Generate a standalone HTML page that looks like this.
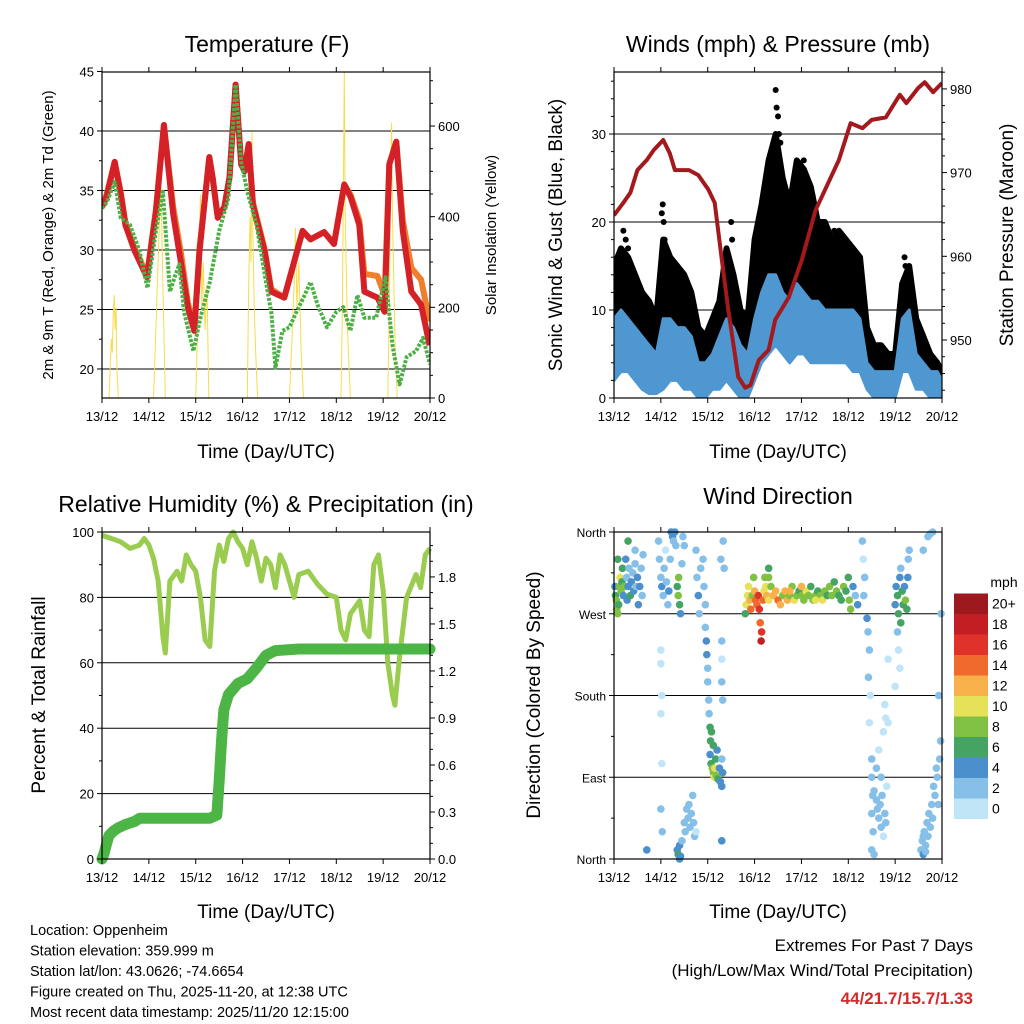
<!DOCTYPE html>
<html><head><meta charset="utf-8"><style>
html,body{margin:0;padding:0;background:#fff;}
svg{display:block;font-family:"Liberation Sans",sans-serif;}
</style></head><body>
<svg id="chart" width="1024" height="1024" viewBox="0 0 1024 1024" xmlns="http://www.w3.org/2000/svg">
<rect width="1024" height="1024" fill="#fff"/>
</svg>
<script>
// ---------- Temperature panel data ----------
const tempTimes = [0,0.1,0.27,0.4,0.5,0.7,0.96,1.15,1.32,1.52,1.69,1.83,1.97,2.08,2.29,2.36,2.47,2.61,2.72,2.85,2.97,3.04,3.13,3.22,3.47,3.61,3.89,4.1,4.28,4.45,4.74,4.95,5.17,5.31,5.49,5.6,5.88,6.03,6.13,6.28,6.42,6.6,6.81,6.99];
const tempRed = [33.6,34.5,37.4,34.7,32.1,29.9,27.7,33.2,40.5,33,28.8,25.2,23.2,29.9,37.8,36.1,32.7,33.6,36.1,43.9,37.2,36.6,38.9,33.8,29.9,26.5,26,29,31.6,30.9,31.5,30.5,35.5,34.4,32.1,26.5,26,24.8,37.2,39.1,31.6,26.5,25.4,22];
const tempOrange = [33.6,34.7,37.4,34.9,32.3,30.1,27.9,33.4,40.5,33.6,29.6,25.6,23.4,30.1,37.8,36.1,32.9,33.6,36.1,43.9,37.2,36.8,38.9,34,30.1,26.7,26,29,31.6,30.9,31.5,30.5,35.5,34.6,32.5,28,27.8,26.2,37.2,39.1,32.5,28.5,27.5,24];
const dewTimes = [0,0.1,0.27,0.4,0.6,0.8,0.97,1.15,1.3,1.45,1.55,1.65,1.75,1.95,2.1,2.3,2.5,2.7,2.85,2.97,3.1,3.3,3.5,3.62,3.7,3.85,4.0,4.15,4.3,4.45,4.6,4.8,5.0,5.15,5.3,5.45,5.6,5.85,6.05,6.2,6.35,6.5,6.7,6.85,7.0];
const dewGreen = [33.5,34,35.7,32.7,32.1,29.9,26.8,31.6,34.9,26.5,27.7,28.8,24.8,21.5,24.3,27.3,31.6,34.4,43.9,37.4,34.9,32.1,27.3,24.6,20.1,23.2,23.5,24.8,26,27.3,25.4,23.5,24.8,25.2,23.2,26.2,24.3,24.3,27.7,22,18.7,21,21.5,22.6,20.4];
const solarTimes = [0.15,0.18,0.2,0.22,0.24,0.26,0.28,0.3,0.32,0.35, 1.1,1.12,1.15,1.18,1.2,1.22,1.25,1.28,1.3,1.32,1.35, 2.0,2.04,2.08,2.1,2.13,2.16,2.2,2.24,2.28, 3.1,3.13,3.16,3.18,3.2,3.22,3.25,3.28,3.32, 4.0,4.05,4.1,4.13,4.16,4.2,4.25,4.3, 5.1,5.13,5.15,5.17,5.19,5.21,5.24,5.28,5.3, 6.1,6.13,6.16,6.18,6.2,6.23,6.26,6.3];
const solarValues = [0,80,130,100,180,227,150,200,60,0, 0,60,150,250,300,380,500,350,250,150,0, 0,150,350,448,200,300,150,250,0, 0,250,400,300,587,350,200,100,0, 0,120,250,375,200,300,100,0, 0,200,450,720,400,300,150,50,0, 0,200,500,607,400,250,100,0];
const dayLabels = ["13/12","14/12","15/12","16/12","17/12","18/12","19/12","20/12"];
const tempTicks = [20,25,30,35,40,45];
const solarTicks = [0,200,400,600];

// ---------- Wind panel data ----------
const windTimes = [0,0.15,0.3,0.45,0.6,0.75,0.9,1.05,1.2,1.35,1.5,1.65,1.8,1.95,2.1,2.25,2.4,2.55,2.7,2.85,3.0,3.15,3.3,3.45,3.6,3.75,3.9,4.05,4.2,4.35,4.5,4.65,4.8,4.95,5.1,5.25,5.4,5.55,5.7,5.85,6.0,6.15,6.3,6.45,6.6,6.75,6.9,7.0];
const gustHigh = [15,17,16,14,12,11,9,18,16,15,14,12,8,7,9,11,17,14,10,9,18,22,27,30,25,22,27,26,24,20,20,18,19,18,17,16,8,6,6,5,5,13,15,9,7,5,4,3];
const gustLow = [5,6,6,4,3,2,2,3,4,4,3,2,1,1,2,3,4,3,1,1,5,8,10,11,9,8,10,9,8,7,7,6,7,6,6,5,2,1,1,1,1,4,5,2,2,1,1,0.5];
const windHigh = [9,10,9,8,7,6,5,9,9,8,8,7,4,4,5,7,9,8,6,5,9,12,14,14,12,11,13,12,11,11,10,10,10,10,10,9,4,3,3,3,3,9,10,5,4,3,3,2];
const windLow = [2,3,3,2,1,0.5,0.5,1,2,2,1,1,0,0,1,1,2,1,0,0,2,4,5,6,5,4,5,5,4,4,4,4,4,4,3,3,1,0,0,0,0,3,3,1,1,0,0,0];
const gustOutT = [0.2,0.25,0.3,1.02,1.04,1.06,1.08,2.5,2.52,3.45,3.47,3.5,3.52,3.55,4.05,4.07,4.1,4.7,4.72,5.05,5.07,6.2,6.22];
const gustOutV = [19,18,17,21,22,20,18,20,18,35,33,32,30,29,27,25,22,19,18,15,13,16,15];
const presTimes = [0,0.2,0.35,0.5,0.7,0.85,1.05,1.19,1.3,1.6,1.8,2.01,2.15,2.3,2.44,2.65,2.8,2.91,3.09,3.3,3.44,3.73,4.01,4.3,4.8,5.05,5.3,5.5,5.8,6.1,6.24,6.49,6.63,6.81,7.0];
const presValues = [964.9,966.4,967.6,970.3,971.5,972.7,973.9,972.3,970.3,970.3,969.7,968,966.4,959.6,953.6,945.6,944.3,944.6,947.6,948.8,952.4,955.1,959.6,965.5,971.5,975.9,975.3,976.3,976.6,979.3,978.3,980.1,980.8,979.6,980.7];
const windTicks = [0,10,20,30];
const presTicks = [950,960,970,980];

// ---------- RH / precip data ----------
const rhTimes = [0,0.2,0.4,0.6,0.8,0.9,1.0,1.1,1.2,1.3,1.35,1.45,1.6,1.7,1.8,1.9,2.0,2.1,2.2,2.3,2.4,2.5,2.6,2.7,2.8,2.9,3.0,3.1,3.2,3.3,3.4,3.5,3.6,3.7,3.8,3.9,4.0,4.1,4.2,4.4,4.6,4.8,5.0,5.1,5.2,5.3,5.5,5.6,5.7,5.8,5.9,6.0,6.1,6.2,6.25,6.35,6.5,6.7,6.8,6.9,7.0];
const rhValues = [99,98,97,95,96,98,96,92,85,68,63,85,88,85,93,90,88,80,67,65,88,96,91,98,100,97,95,90,97,92,85,92,90,83,93,90,85,80,87,88,84,81,80,70,67,75,79,70,68,90,93,82,60,50,47,62,80,87,83,93,95];
const precipTimes = [0,0.05,0.1,0.15,0.25,0.35,0.5,0.7,0.8,2.3,2.45,2.5,2.55,2.6,2.7,2.9,3.1,3.3,3.5,3.7,4.2,7.0];
const precipValues = [0,0.04,0.1,0.15,0.18,0.2,0.22,0.24,0.26,0.26,0.28,0.5,0.75,0.95,1.05,1.12,1.15,1.22,1.3,1.33,1.34,1.34];
const rhTicks = [0,20,40,60,80,100];
const precipTicks = ["0.0","0.3","0.6","0.9","1.2","1.5","1.8"];

// ---------- Wind direction data ----------
const dirTimes = [0.02,0.03,0.05,0.06,0.08,0.1,0.12,0.13,0.15,0.17,0.18,0.2,0.22,0.25,0.27,0.28,0.3,0.32,0.35,0.37,0.4,0.42,0.45,0.47,0.5,0.52,0.55,0.58,0.6,0.62,0.08,0.45,0.3,
0.95,0.97,1.0,1.02,1.05,1.07,1.1,1.12,1.15,1.17,1.2,1.22,1.25,1.27,1.3,1.32,1.35,1.37,1.38,1.4,1.42,1.45,1.47,1.5,1.0,1.0,1.02,1.0,1.02,1.03,1.0,
1.75,1.77,1.8,1.82,1.85,1.9,1.92,1.95,1.95,1.97,1.98,2.0,2.0,2.02,2.03,2.05,2.06,
2.05,2.07,2.1,2.12,2.14,2.15,2.17,2.18,2.2,2.22,2.25,2.27,2.3,2.32,2.3,2.12,2.08,2.3,2.3,2.32,2.3,2.35,2.33,2.28,2.3,
2.8,2.82,2.85,2.87,2.9,2.92,2.95,2.98,3.0,3.02,3.05,3.08,3.1,3.12,3.15,3.14,3.18,3.2,3.22,3.24,3.26,3.3,3.35,3.4,3.45,3.5,3.55,3.6,3.65,3.7,3.75,3.8,3.85,3.9,3.95,4.0,4.05,4.1,4.15,4.2,4.25,4.3,4.35,4.4,4.45,4.5,4.55,4.6,4.65,4.7,4.75,4.8,4.85,4.9,4.95,5.0,5.02,5.05,5.1,5.15,5.2,3.3,3.3,4.3,4.0,3.75,
5.3,5.32,5.35,5.33,5.4,5.42,5.45,5.43,5.47,5.45,5.5,5.5,5.52,5.5,5.53,5.5,5.55,
5.55,5.6,5.62,5.65,5.68,5.7,5.72,5.75,5.78,5.8,5.82,5.6,5.65,5.75,5.78,5.8,5.85,5.85,5.7,
6.0,6.02,6.05,6.07,6.1,6.12,6.15,6.17,6.2,6.22,6.25,6.27,6.28,6.3,6.05,6.07,6.1,6.0,6.12,
6.55,6.58,6.6,6.62,6.65,6.68,6.7,6.72,6.75,6.78,6.8,6.82,6.85,6.88,6.9,6.92,6.95,6.97,6.93,6.7,6.75,6.8,6.6,6.98,6.65,6.6,
1.35,1.37,1.4,1.42,1.45,1.5,1.52,1.55,1.58,1.6,1.62,1.65,1.7,1.72,1.75,1.68,1.4,0.7];
const dirDegrees = [300,290,285,275,270,280,300,310,295,305,320,290,300,330,310,285,300,320,290,305,315,295,325,300,310,280,300,320,290,335,330,340,350,
350,330,310,300,290,320,340,305,280,295,330,360,355,350,360,345,300,290,310,280,270,325,355,345,230,215,180,160,105,30,55,
340,310,290,270,320,330,300,280,255,240,225,210,195,175,160,145,130,
115,105,100,95,90,100,110,92,120,88,100,85,80,95,110,125,140,220,195,175,240,320,350,330,20,
270,280,290,300,285,275,290,310,295,285,280,290,275,260,250,240,285,295,310,300,290,285,300,290,295,285,280,290,295,285,290,300,285,290,295,290,285,295,290,300,285,290,295,290,285,295,290,300,290,305,295,290,285,300,295,310,285,275,300,290,280,320,310,285,300,295,
350,330,310,290,265,250,230,200,180,150,110,90,70,50,30,10,5,
75,65,55,45,60,35,70,25,50,40,80,100,120,140,170,155,150,220,90,
280,300,290,270,310,320,295,280,300,285,275,310,330,340,250,230,210,190,260,
10,20,5,30,15,40,25,50,35,60,45,80,70,100,90,60,110,130,180,355,358,360,340,270,8,25,
10,5,15,3,20,40,30,55,45,60,35,50,40,25,30,70,0,10];
const dirSpeeds = [4,6,8,9,8,6,9,10,8,7,6,5,9,4,3,5,4,3,6,4,3,4,3,2,4,4,5,3,2,3,6,2,7,
2,2,3,4,3,2,1,2,3,4,3,4,4,3,4,3,7,8,9,6,5,2,2,2,1,1,0,1,1,2,2,
2,3,4,2,2,2,3,2,3,4,4,2,3,2,2,6,7,
5,6,8,9,11,10,7,8,5,6,4,4,4,4,3,6,7,1,2,2,3,2,2,3,4,
6,10,11,10,12,14,9,8,12,14,15,16,17,15,16,18,14,10,9,10,12,10,9,12,13,14,12,9,13,12,8,9,10,8,7,9,8,10,8,7,8,9,7,8,10,8,7,8,9,7,8,6,7,8,6,7,8,9,5,3,4,7,9,11,12,12,
2,1,2,3,4,3,2,2,1,1,2,2,2,2,2,2,2,
3,2,2,3,2,2,2,1,2,2,1,2,1,1,1,1,0,1,2,
4,5,6,7,4,3,6,7,5,8,6,4,3,3,2,1,1,0,6,
2,3,4,2,2,2,3,2,2,2,2,2,2,2,2,2,2,2,3,2,2,2,3,2,2,2,
4,6,5,4,3,2,2,2,2,2,2,2,2,2,1,2,4,4];
const dirTickLabels = ["North","East","South","West","North"];
const speedBinLabels = ["0","2","4","6","8","10","12","14","16","18","20+"];
const speedBinColors = ["#bfe5f7","#86c0e8","#4b8fcc","#45a464","#80c143","#e5e25a","#f8b04a","#ef6a2c","#df322a","#c41e25","#9c1a1e"];

// ---------- helpers ----------
const NS = "http://www.w3.org/2000/svg";
const svg = document.getElementById('chart');
function mk(tag, attrs, parent){ const e=document.createElementNS(NS,tag); for(const k in attrs) e.setAttribute(k,attrs[k]); (parent||svg).appendChild(e); return e; }
function txt(s, attrs, parent){ const e=mk('text',attrs,parent); e.textContent=s; return e; }
function pathOf(xs, ys){ return xs.map((x,i)=>(i?'L':'M')+x.toFixed(1)+','+ys[i].toFixed(1)).join(''); }

// axes
const xA = d => 102 + d*46.86;
const xB = d => 614 + d*46.86;
const yTemp = f => 398 - (f-17.56)*11.9;
const ySolar = v => 398 - v*0.4533;
const yWind = m => 398 - m*8.8;
const yPres = mb => 340 - (mb-950)*8.37;
const yRH = p => 859 - p*3.27;
const yPrec = i => 859 - i*156.7;
const yDir = d => 859 - d*327/360;

function frame(name){
  const g = mk('g',{});
  
  
  return g;
}
function box(g,x0,y0,x1,y1){
  const r = mk('rect',{x:x0,y:y0,width:x1-x0,height:y1-y0,fill:'none',stroke:'#000','stroke-width':1.2},g);
  
  
}
function xTicks(g, xf, yTop, yBot){
  for(let d=0; d<=7; d++){
    const x = xf(d);
    mk('line',{x1:x,y1:yBot,x2:x,y2:yBot+5,stroke:'#000'},g);
    mk('line',{x1:x,y1:yTop,x2:x,y2:yTop-5,stroke:'#000'},g);
    const t = txt(dayLabels[d],{x:x,y:yBot+23,'font-size':13,'text-anchor':'middle'},g);
    
    
  }
}
function hGrid(g, ys, x0, x1){
  ys.forEach(y=>{ const l=mk('line',{x1:x0,y1:y,x2:x1,y2:y,stroke:'#000','stroke-width':1},g);
    
     });
}
function leftTicks(g, ys, labels, x0, size){
  ys.forEach((y,i)=>{ mk('line',{x1:x0-5,y1:y,x2:x0,y2:y,stroke:'#000'},g);
    if(labels){ const t=txt(labels[i],{x:x0-8,y:y+5,'font-size':size||13,'text-anchor':'end'},g);
      
       } });
}
function rightTicks(g, ys, labels, x1){
  ys.forEach((y,i)=>{ mk('line',{x1:x1,y1:y,x2:x1+5,y2:y,stroke:'#000'},g);
    if(labels){ const t=txt(labels[i],{x:x1+8,y:y+5,'font-size':13,'text-anchor':'start'},g);
      
       } });
}
function minorTicks(g, ys, x, dir){ ys.forEach(y=> mk('line',{x1:x,y1:y,x2:x+3*dir,y2:y,stroke:'#000'},g)); }
function title(s,x,y){ const t=txt(s,{x:x,y:y,'font-size':23,'text-anchor':'middle'});   }
function vlabel(s,x,y,size,name){ const t=txt(s,{x:0,y:0,'font-size':size,'text-anchor':'middle',transform:`translate(${x},${y}) rotate(-90)`});   }
function xlabel(s,x,y){ const t=txt(s,{x:x,y:y,'font-size':19,'text-anchor':'middle'});   }

// ================= Panel 1: Temperature =================
{
  const g = frame('temperature-panel');
  hGrid(g, tempTicks.slice(0,5).map(yTemp), 102, 430);
  const clip = mk('clipPath',{id:'c1'},g); mk('rect',{x:102,y:72,width:328,height:326},clip);
  const pg = mk('g',{'clip-path':'url(#c1)'},g);
  const sol = mk('path',{d:pathOf(solarTimes.map(xA),solarValues.map(ySolar)),fill:'none',stroke:'#f7dc4a','stroke-width':1},pg);
  
  
  const or = mk('path',{d:pathOf(tempTimes.map(xA),tempOrange.map(yTemp)),fill:'none',stroke:'#f07f2c','stroke-width':6,'stroke-linejoin':'round'},pg);
  
  
  const rd = mk('path',{d:pathOf(tempTimes.map(xA),tempRed.map(yTemp)),fill:'none',stroke:'#d42027','stroke-width':6,'stroke-linejoin':'round'},pg);
  
  
  const gr = mk('path',{d:pathOf(dewTimes.map(xA),dewGreen.map(yTemp)),fill:'none',stroke:'#4cb046','stroke-width':4,'stroke-dasharray':'3 1.5','stroke-linejoin':'round'},pg);
  
  
  box(g,102,72,430,398);
  leftTicks(g, tempTicks.map(yTemp), tempTicks.map(String), 102);
  minorTicks(g, [22.5,27.5,32.5,37.5,42.5].map(yTemp), 102, -1);
  rightTicks(g, solarTicks.map(ySolar), solarTicks.map(String), 430);
  minorTicks(g, [50,100,150,250,300,350,450,500,550,650,700].map(ySolar), 430, 1);
  xTicks(g, xA, 72, 398);
  title('Temperature (F)', 267, 52);
  vlabel('2m & 9m T (Red, Orange) & 2m Td (Green)', 53, 235, 15, 'y-axis-title');
  vlabel('Solar Insolation (Yellow)', 496, 235, 15, 'y2-axis-title');
  xlabel('Time (Day/UTC)', 266, 458);
}

// ================= Panel 2: Winds =================
{
  const g = frame('winds-panel');
  hGrid(g, windTicks.slice(1).map(yWind), 614, 942);
  const clip = mk('clipPath',{id:'c2'},g); mk('rect',{x:614,y:72,width:328,height:326},clip);
  const pg = mk('g',{'clip-path':'url(#c2)'},g);
  const gx = windTimes.map(xB);
  const gp = mk('path',{d:pathOf(gx.concat(gx.slice().reverse()), gustHigh.map(yWind).concat(gustLow.map(yWind).reverse()))+'Z',fill:'#000',stroke:'#000','stroke-width':6,'stroke-linejoin':'round'},pg);
  
  
  gustOutT.forEach((t,i)=>{ const c=mk('circle',{cx:xB(t),cy:yWind(gustOutV[i]),r:3,fill:'#000'},pg);
    
     });
  const wp = mk('path',{d:pathOf(gx.concat(gx.slice().reverse()), windHigh.map(yWind).concat(windLow.map(yWind).reverse()))+'Z',fill:'#4f97d0',stroke:'#4f97d0','stroke-width':3,'stroke-linejoin':'round'},pg);
  
  
  const pl = mk('path',{d:pathOf(presTimes.map(xB),presValues.map(yPres)),fill:'none',stroke:'#a3191d','stroke-width':4,'stroke-linejoin':'round'},pg);
  
  
  box(g,614,72,942,398);
  leftTicks(g, windTicks.map(yWind), windTicks.map(String), 614);
  minorTicks(g, [2,4,6,8,12,14,16,18,22,24,26,28,32,34,36].map(yWind), 614, -1);
  rightTicks(g, presTicks.map(yPres), presTicks.map(String), 942);
  minorTicks(g, [944,946,948,952,954,956,958,962,964,966,968,972,974,976,978,982].map(yPres), 942, 1);
  xTicks(g, xB, 72, 398);
  title('Winds (mph) & Pressure (mb)', 778, 52);
  vlabel('Sonic Wind & Gust (Blue, Black)', 562, 235, 19, 'y-axis-title');
  vlabel('Station Pressure (Maroon)', 1013, 235, 19, 'y2-axis-title');
  xlabel('Time (Day/UTC)', 778, 458);
}

// ================= Panel 3: RH & precip =================
{
  const g = frame('humidity-panel');
  hGrid(g, rhTicks.slice(1).map(yRH), 102, 430);
  const clip = mk('clipPath',{id:'c3'},g); mk('rect',{x:96,y:526,width:340,height:340},clip);
  const pg = mk('g',{'clip-path':'url(#c3)'},g);
  const rh = mk('path',{d:pathOf(rhTimes.map(xA),rhValues.map(yRH)),fill:'none',stroke:'#9acd4f','stroke-width':5,'stroke-linejoin':'round'},pg);
  
  
  const pr = mk('path',{d:pathOf(precipTimes.map(xA),precipValues.map(yPrec)),fill:'none',stroke:'#4db446','stroke-width':11,'stroke-linejoin':'round','stroke-linecap':'round'},pg);
  
  
  box(g,102,532,430,859);
  leftTicks(g, rhTicks.map(yRH), rhTicks.map(String), 102);
  minorTicks(g, [10,30,50,70,90].map(yRH), 102, -1);
  rightTicks(g, precipTicks.map(v=>yPrec(parseFloat(v))), precipTicks, 430);
  minorTicks(g, [0.1,0.2,0.4,0.5,0.7,0.8,1.0,1.1,1.3,1.4,1.6,1.7,1.9,2.0].map(yPrec), 430, 1);
  xTicks(g, xA, 532, 859);
  title('Relative Humidity (%) & Precipitation (in)', 266, 512);
  vlabel('Percent & Total Rainfall', 45, 695, 19, 'y-axis-title');
  xlabel('Time (Day/UTC)', 266, 918);
}

// ================= Panel 4: Wind direction =================
{
  const g = frame('wind-direction-panel');
  hGrid(g, [90,180,270,360].map(yDir), 614, 942);
  const clip = mk('clipPath',{id:'c4'},g); mk('rect',{x:608,y:526,width:340,height:340},clip);
  const pg = mk('g',{'clip-path':'url(#c4)'},g);
  dirTimes.forEach((t,i)=>{
    const bin = Math.min(10, Math.floor(dirSpeeds[i]/2));
    const c = mk('circle',{cx:xB(t),cy:yDir(dirDegrees[i]),r:3.8,fill:speedBinColors[bin]},pg);
    
    
  });
  box(g,614,532,942,859);
  leftTicks(g, [0,90,180,270,360].map(yDir), dirTickLabels, 614, 12);
  minorTicks(g, [45,135,225,315].map(yDir), 614, -1);
  xTicks(g, xB, 532, 859);
  title('Wind Direction', 778, 504);
  vlabel('Direction (Colored By Speed)', 540, 695, 19, 'y-axis-title');
  xlabel('Time (Day/UTC)', 778, 918);
  const cb = mk('g',{});
  
  
  const u = txt('mph',{x:1004,y:587,'font-size':14,'text-anchor':'middle'},cb);
  
  
  speedBinColors.forEach((col,i)=>{
    const y = 819 - (i+1)*20.5;
    const r = mk('rect',{x:954,y:y,width:34,height:20.5,fill:col},cb);
    
    
    const t = txt(speedBinLabels[i],{x:992,y:y+15,'font-size':14},cb);
    
    
  });
}

// ================= Footer text =================
{
  const lines = ["Location: Oppenheim","Station elevation: 359.999 m","Station lat/lon: 43.0626; -74.6654","Figure created on Thu, 2025-11-20, at 12:38 UTC","Most recent data timestamp: 2025/11/20 12:15:00"];
  lines.forEach((s,i)=>{ const t=txt(s,{x:30,y:935+i*20.5,'font-size':14.5});
    
     });
  const a = txt('Extremes For Past 7 Days',{x:973,y:951,'font-size':17,'text-anchor':'end'});
  
  
  const b = txt('(High/Low/Max Wind/Total Precipitation)',{x:973,y:976,'font-size':17,'text-anchor':'end'});
  
  
  const c = txt('44/21.7/15.7/1.33',{x:973,y:1004,'font-size':17,'font-weight':'bold','text-anchor':'end',fill:'#d32a2a'});
  
  
}
</script>
</body></html>
